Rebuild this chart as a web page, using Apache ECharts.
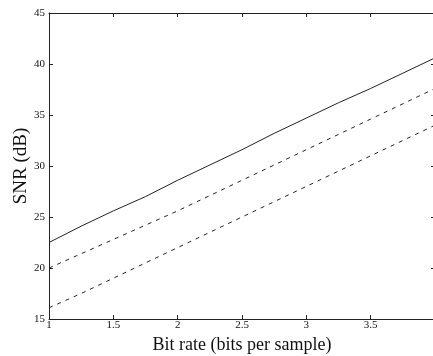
<!DOCTYPE html>
<html>
<head>
<meta charset="utf-8">
<script src="https://cdn.jsdelivr.net/npm/echarts@6/dist/echarts.min.js"></script>
<style>
  html, body { margin: 0; padding: 0; background: #fff; }
  #chart { width: 433px; height: 356px; }
</style>
</head>
<body>
<div id="chart"></div>
<script>
// bit rate (bits per sample)
const bitRates = [1, 1.25, 1.5, 1.75, 2, 2.25, 2.5, 2.75, 3, 3.25, 3.5, 3.75, 4];
// SNR (dB)
const snrSolid = [22.5, 24.1, 25.6, 27.0, 28.6, 30.1, 31.6, 33.2, 34.7, 36.2, 37.6, 39.1, 40.6];
const snrUpperDash = [20.0, 21.4, 22.8, 24.2, 25.6, 27.1, 28.6, 30.1, 31.6, 33.1, 34.6, 36.1, 37.6];
const snrLowerDash = [16.1, 17.5, 19.0, 20.5, 22.0, 23.5, 25.0, 26.5, 28.0, 29.5, 31.0, 32.5, 34.0];

const xTicks = { min: 1, max: 4, step: 0.5 };
const yTicks = { min: 15, max: 45, step: 5 };

const serif = '"Liberation Serif", "DejaVu Serif", serif';
const ink = '#222';

const pairs = (ys) => bitRates.map((x, i) => [x, ys[i]]);

const chart = echarts.init(document.getElementById('chart'));

const frameAxis = {
  axisLine: { show: true, lineStyle: { color: ink, width: 1 } },
  axisTick: { show: true, inside: true, length: 4, lineStyle: { color: ink } },
  splitLine: { show: false }
};

const option = {
  backgroundColor: '#fff',
  animation: false,
  grid: { left: 49, right: -2, top: 13, bottom: 37, outerBoundsMode: 'none', containLabel: false },
  xAxis: [
    {
      ...frameAxis,
      type: 'value',
      position: 'bottom',
      min: xTicks.min, max: xTicks.max, interval: xTicks.step,
      name: 'Bit rate (bits per sample)',
      nameLocation: 'middle',
      nameGap: 17,
      nameMoveOverlap: false,
      nameTextStyle: { fontFamily: serif, fontSize: 18, color: '#111' },
      axisLabel: {
        margin: 1,
        fontFamily: serif, fontSize: 11, color: '#111',
        formatter: (v) => (v === xTicks.max ? '' : String(v))
      }
    },
    {
      ...frameAxis,
      type: 'value',
      position: 'top',
      min: xTicks.min, max: xTicks.max, interval: xTicks.step,
      axisLabel: { show: false }
    }
  ],
  yAxis: [
    {
      ...frameAxis,
      type: 'value',
      position: 'left',
      min: yTicks.min, max: yTicks.max, interval: yTicks.step,
      name: 'SNR (dB)',
      nameLocation: 'middle',
      nameGap: 18,
      nameMoveOverlap: false,
      nameTextStyle: { fontFamily: serif, fontSize: 19, color: '#111' },
      axisLabel: { margin: 4, fontFamily: serif, fontSize: 11, color: '#111' }
    },
    {
      ...frameAxis,
      type: 'value',
      position: 'right',
      min: yTicks.min, max: yTicks.max, interval: yTicks.step,
      axisLabel: { show: false }
    }
  ],
  series: [
    {
      name: 'solid',
      type: 'line',
      data: pairs(snrSolid),
      showSymbol: false,
      lineStyle: { color: ink, width: 1 }
    },
    {
      name: 'upper dashed',
      type: 'line',
      data: pairs(snrUpperDash),
      showSymbol: false,
      lineStyle: { color: ink, width: 1, type: [4, 5] }
    },
    {
      name: 'lower dashed',
      type: 'line',
      data: pairs(snrLowerDash),
      showSymbol: false,
      lineStyle: { color: ink, width: 1, type: [4, 5] }
    }
  ]
};

chart.setOption(option);
</script>
</body>
</html>
